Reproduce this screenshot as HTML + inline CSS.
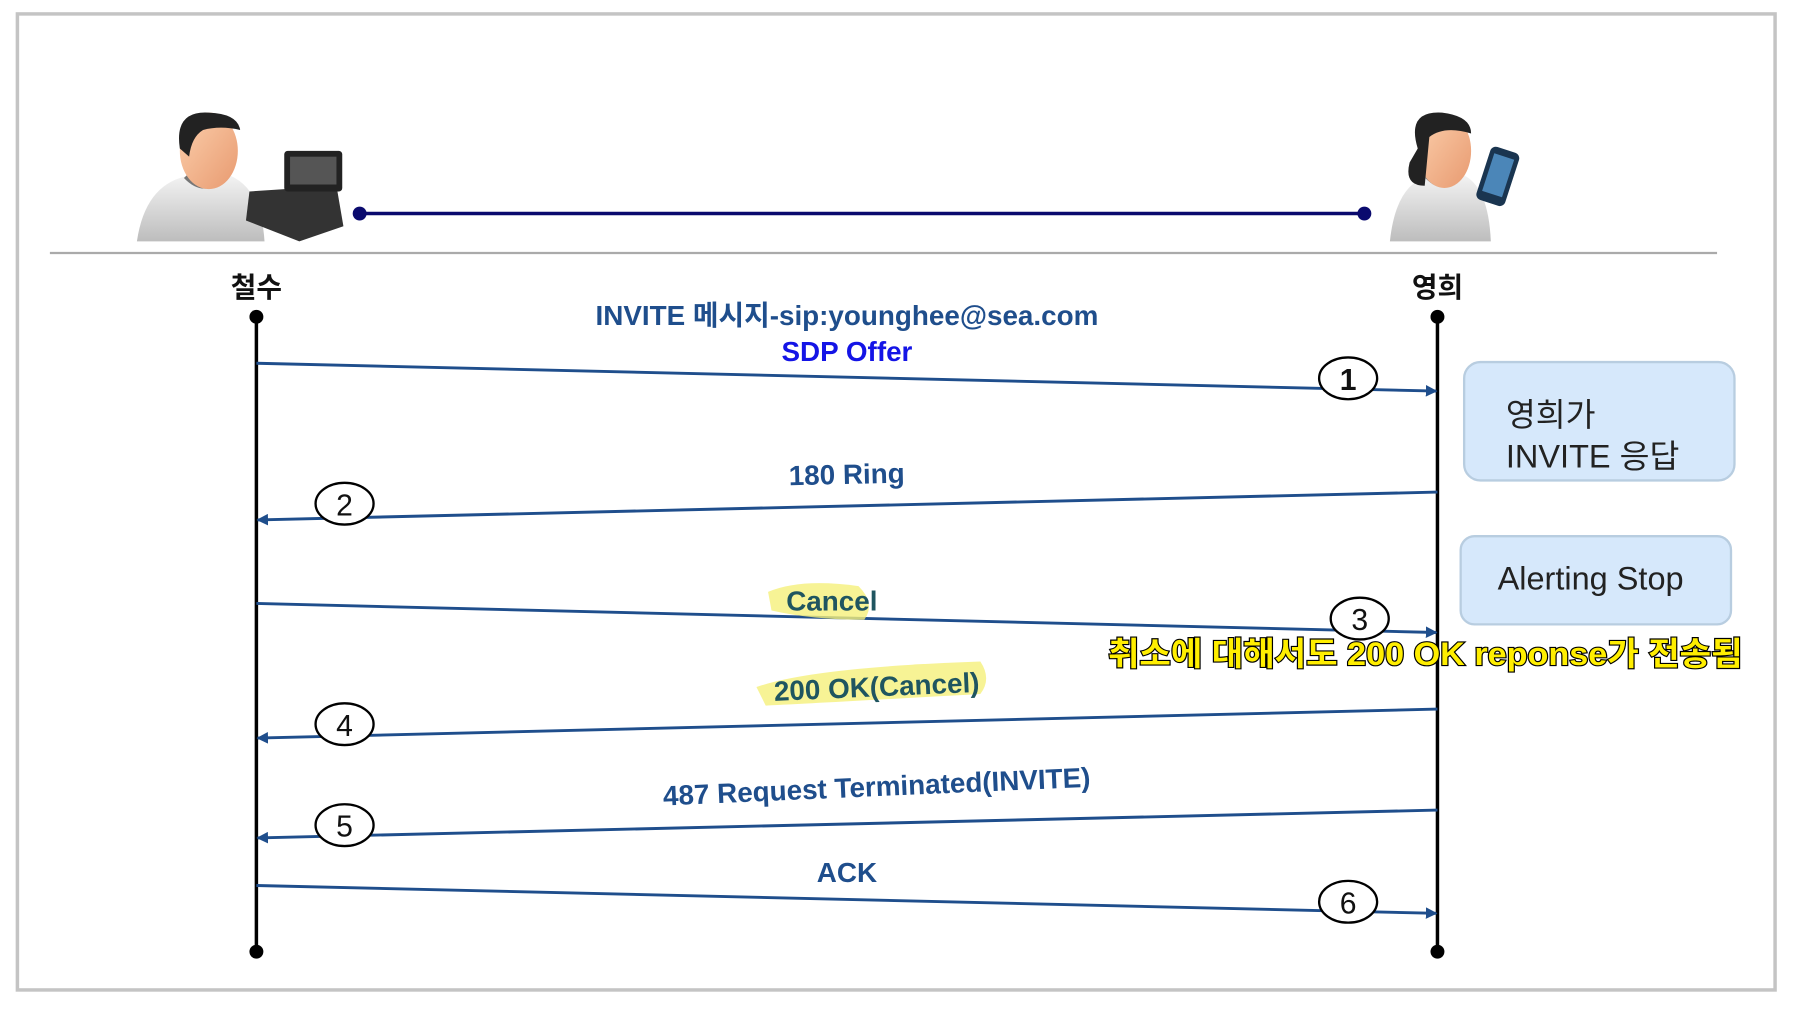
<!DOCTYPE html>
<html><head><meta charset="utf-8"><style>
html,body{margin:0;padding:0;background:#fff;width:1818px;height:1012px;overflow:hidden}
svg{display:block}
text{font-family:"Liberation Sans","Noto Sans CJK KR",sans-serif}
</style></head><body>
<svg width="1818" height="1012" viewBox="0 0 1567 872" preserveAspectRatio="none" xmlns="http://www.w3.org/2000/svg">
<defs>
<marker id="ah" markerWidth="10" markerHeight="10" refX="9" refY="5" orient="auto" markerUnits="userSpaceOnUse"><path d="M0,0 L10,5 L0,10 Z" fill="#1f4e8c"/></marker>
<linearGradient id="shirt" x1="0" y1="0" x2="0" y2="1"><stop offset="0" stop-color="#f4f4f4"/><stop offset="1" stop-color="#bdbdbd"/></linearGradient>
<linearGradient id="face" x1="0" y1="0" x2="1" y2="1"><stop offset="0" stop-color="#fcd0ad"/><stop offset="1" stop-color="#e89a70"/></linearGradient>
</defs>
<rect x="15" y="12" width="1515" height="841" fill="#fff" stroke="#c4c4c4" stroke-width="3"/>
<line x1="43" y1="218" x2="1480" y2="218" stroke="#aaa" stroke-width="2"/>
<path d="M118,208 Q125,160 160,152 L195,150 Q225,160 228,208 Z" fill="url(#shirt)"/>
<path d="M160,152 Q177,170 195,150" fill="none" stroke="#777" stroke-width="4"/>
<ellipse cx="180" cy="130" rx="25" ry="33" fill="url(#face)"/>
<path d="M155,128 Q150,95 180,97 Q205,98 207,112 Q190,108 175,112 Q165,118 163,135 Z" fill="#222"/>
<path d="M215,165 L290,160 L296,195 L258,208 L212,190 Z" fill="#333"/>
<rect x="245" y="130" width="50" height="35" fill="#222" rx="3"/>
<rect x="250" y="135" width="40" height="24" fill="#555"/>
<path d="M1198,208 Q1203,160 1230,152 L1260,150 Q1283,160 1285,208 Z" fill="url(#shirt)"/>
<path d="M1230,152 Q1245,168 1260,150" fill="none" stroke="#777" stroke-width="4"/>
<ellipse cx="1245" cy="130" rx="23" ry="32" fill="url(#face)"/>
<path d="M1222,128 Q1212,95 1243,97 Q1268,100 1268,115 Q1245,108 1232,118 L1228,160 Q1210,160 1215,140 Z" fill="#222"/>
<rect x="1278" y="128" width="26" height="48" rx="5" fill="#1a3550" transform="rotate(18 1291 152)"/>
<rect x="1282" y="134" width="18" height="34" fill="#4b86b8" transform="rotate(18 1291 152)"/>
<line x1="310" y1="184" x2="1176" y2="184" stroke="#0a0a6e" stroke-width="3"/>
<circle cx="310" cy="184" r="6" fill="#0a0a6e"/><circle cx="1176" cy="184" r="6" fill="#0a0a6e"/>
<text x="221" y="256" font-size="24" font-weight="bold" text-anchor="middle" fill="#111">철수</text>
<text x="1239" y="256" font-size="24" font-weight="bold" text-anchor="middle" fill="#111">영희</text>
<line x1="221" y1="273" x2="221" y2="820" stroke="#000" stroke-width="3"/>
<line x1="1239" y1="273" x2="1239" y2="820" stroke="#000" stroke-width="3"/>
<circle cx="221" cy="273" r="6"/><circle cx="221" cy="820" r="6"/>
<circle cx="1239" cy="273" r="6"/><circle cx="1239" cy="820" r="6"/>
<g stroke="#1f4e8c" stroke-width="2.5" marker-end="url(#ah)">
<line x1="221" y1="313" x2="1238" y2="337"/>
<line x1="1239" y1="424" x2="222" y2="448"/>
<line x1="221" y1="520" x2="1238" y2="545"/>
<line x1="1239" y1="611" x2="222" y2="636"/>
<line x1="1239" y1="698" x2="222" y2="722"/>
<line x1="221" y1="763" x2="1238" y2="787"/>
</g>
<g fill="#fff" stroke="#000" stroke-width="2">
<ellipse cx="1162" cy="326" rx="25" ry="18"/>
<ellipse cx="297" cy="434" rx="25" ry="18"/>
<ellipse cx="1172" cy="533" rx="25" ry="18"/>
<ellipse cx="297" cy="624" rx="25" ry="18"/>
<ellipse cx="297" cy="711" rx="25" ry="18"/>
<ellipse cx="1162" cy="777" rx="25" ry="18"/>
</g>
<g font-size="26" text-anchor="middle" fill="#111">
<text x="1162" y="336" font-weight="bold">1</text>
<text x="297" y="444">2</text>
<text x="1172" y="543">3</text>
<text x="297" y="634">4</text>
<text x="297" y="721">5</text>
<text x="1162" y="787">6</text>
</g>
<path d="M662,510 Q690,498 740,505 Q755,520 745,534 Q700,534 665,526 Z" fill="#f5f07a" opacity="0.8"/>
<path d="M652,592 Q700,575 845,570 Q855,585 845,598 Q720,605 660,608 Z" fill="#f5f07a" opacity="0.8"/>
<g font-weight="bold" font-size="24" text-anchor="middle" fill="#1f4e8c">
<text x="730" y="280">INVITE 메시지-sip:younghee@sea.com</text>
<text x="730" y="311" fill="#1414e6">SDP Offer</text>
<text x="730" y="417" transform="rotate(-1.3 730 417)">180 Ring</text>
<text x="717" y="526" fill="#1f5560">Cancel</text>
<text x="756" y="600" transform="rotate(-2.5 756 600)" fill="#1f5560">200 OK(Cancel)</text>
<text x="756" y="686" transform="rotate(-2.5 756 686)">487 Request Terminated(INVITE)</text>
<text x="730" y="760">ACK</text>
</g>
<rect x="1262" y="312" width="233" height="102" rx="14" fill="#d6e8fb" stroke="#b8cde0" stroke-width="2"/>
<text x="1298" y="367" font-size="28" fill="#222">영희가</text>
<text x="1298" y="403" font-size="28" fill="#222">INVITE 응답</text>
<rect x="1259" y="462" width="233" height="76" rx="12" fill="#d6e8fb" stroke="#b8cde0" stroke-width="2"/>
<text x="1371" y="508" font-size="28" text-anchor="middle" fill="#222">Alerting Stop</text>
<text x="955" y="573" font-size="28" font-weight="bold" fill="#ffee00" stroke="#000" stroke-width="2" textLength="547" lengthAdjust="spacingAndGlyphs" paint-order="stroke">취소에 대해서도 200 OK reponse가 전송됨</text>
</svg>
</body></html>
